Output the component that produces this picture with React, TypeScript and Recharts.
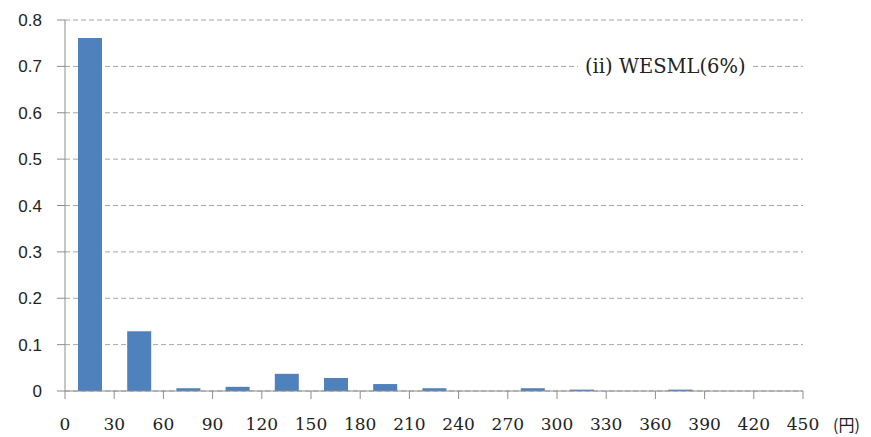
import React from 'react';
import { BarChart, Bar, XAxis, YAxis, CartesianGrid } from 'recharts';

// bin midpoints (円), 30-yen bins
const binMids = [15, 45, 75, 105, 135, 165, 195, 225, 255, 285, 315, 345, 375, 405, 435];
const shares = [0.761, 0.129, 0.006, 0.009, 0.037, 0.028, 0.015, 0.006, 0, 0.006, 0.003, 0, 0.003, 0, 0];
const xTicks = [0, 30, 60, 90, 120, 150, 180, 210, 240, 270, 300, 330, 360, 390, 420, 450];
const yTicks = [0, 0.1, 0.2, 0.3, 0.4, 0.5, 0.6, 0.7, 0.8];

const data = binMids.map((x, i) => ({ x, share: shares[i] }));

const axisGray = '#8c8c8c';
const serif = '"DejaVu Serif", "Liberation Serif", serif';

const XTick = (props: any) => {
  const { x, y, payload } = props;
  return (
    <text x={x} y={y} dy="0.71em" textAnchor="middle" fill="#222" fontSize={17} style={{ fontFamily: serif }}>
      {payload.value}
    </text>
  );
};

const App: React.FC = () => {
  return (
    <div style={{ position: 'absolute', left: 0, top: 0, width: 871, height: 437, background: '#fff', overflow: 'hidden' }}>
      <BarChart width={871} height={437} data={data} margin={{ top: 20, right: 68, bottom: 16, left: 0 }}>
        <CartesianGrid vertical={false} stroke="#a6a6a6" strokeDasharray="5 3" />
        <XAxis
          dataKey="x"
          type="number"
          domain={[0, 450]}
          ticks={xTicks}
          interval={0}
          height={30}
          tickSize={8}
          tickMargin={19}
          stroke={axisGray}
          tick={<XTick />}
        />
        <YAxis
          type="number"
          domain={[0, 0.8]}
          ticks={yTicks}
          interval={0}
          width={65}
          tickSize={8}
          tickMargin={15}
          stroke={axisGray}
          tickFormatter={(v: number) => (v === 0 ? '0' : String(Math.round(v * 10) / 10))}
          tick={{ fill: '#222', fontSize: 17, fontFamily: '"Liberation Sans", Arial, sans-serif' }}
        />
        <Bar dataKey="share" fill="#4f81bd" barSize={24} isAnimationActive={false} />
      </BarChart>
      <div
        style={{
          position: 'absolute',
          left: 578,
          top: 55,
          padding: '0 7px',
          background: '#fff',
          fontFamily: serif,
          fontSize: 19.5,
          lineHeight: '24px',
          color: '#222',
          whiteSpace: 'nowrap',
        }}
      >
        (ii) WESML(6%)
      </div>
      <div
        style={{
          position: 'absolute',
          left: 833,
          top: 413,
          fontFamily: '"Noto Sans CJK JP", serif',
          fontSize: 16,
          lineHeight: '22px',
          color: '#222',
          whiteSpace: 'nowrap',
        }}
      >
        (円)
      </div>
    </div>
  );
};

export default App;
